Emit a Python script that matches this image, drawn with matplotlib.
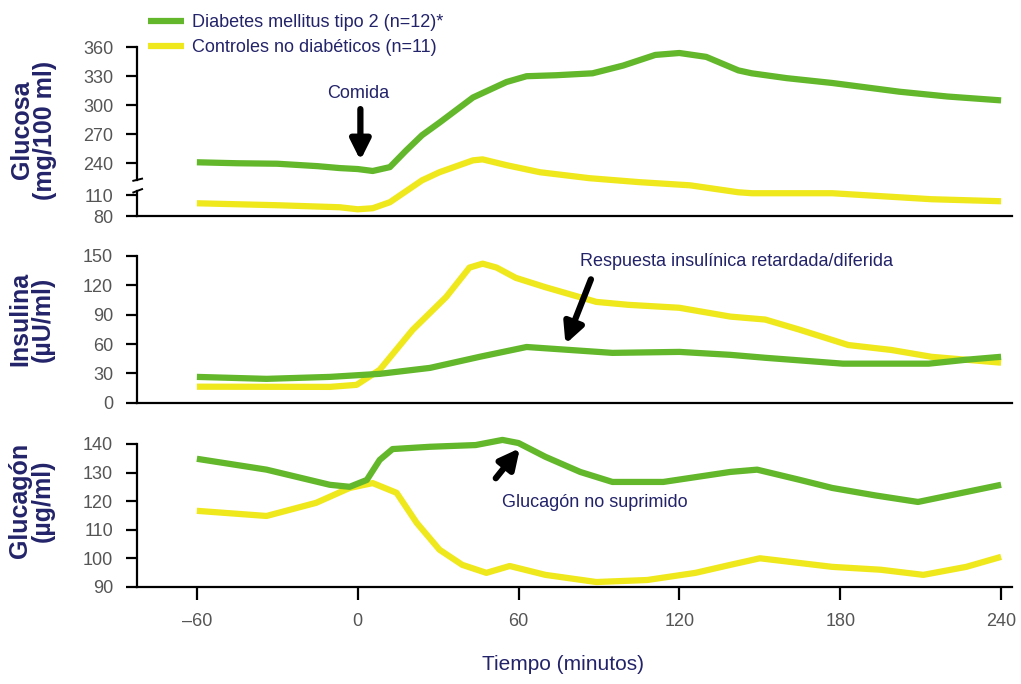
import numpy as np
import matplotlib
matplotlib.use("Agg")
import matplotlib.pyplot as plt

# ---- data ----
# glucosa (mg/100 ml)
t_glu_dm = [-60, -45, -30, -15, -6.7, 0, 5.6, 12, 18, 24, 30.5, 43, 55.5, 63, 74, 87.6, 99, 111, 120, 130, 142, 147, 160, 177, 202, 220, 240]
glu_dm = [241, 240, 239.5, 237, 235, 234, 232, 236, 253, 269, 282, 308, 324, 330, 331, 333, 341, 352, 354, 350, 336, 333, 328, 323, 314, 309, 305]
t_glu_ctl = [-60, -30, -6.7, 0, 5.6, 12, 24, 30.5, 43, 46.6, 55.5, 68, 86.5, 105, 124, 142, 147, 177, 214, 240]
glu_ctl = [98.4, 95.6, 92.7, 89.8, 91.3, 99.9, 208, 230.7, 243, 244, 238, 230.7, 222, 196, 175, 129, 122.8, 122.8, 104.2, 101.3]

# insulina (uU/ml)
t_ins_dm = [-60, -34, -10.4, 8.2, 27, 45.5, 63, 79, 95, 120, 139, 152, 181, 213, 227, 240]
ins_dm = [26.5, 24.5, 26.5, 29.6, 35.7, 47, 57, 54, 51, 52, 49, 46, 40, 40, 44, 47]
t_ins_ctl = [-60, -10.4, -0.4, 8.2, 20.5, 33, 41.7, 46.6, 51.8, 59, 70, 89, 101, 120, 139, 152, 165, 183, 199, 214, 240]
ins_ctl = [16.5, 16.3, 18.4, 33.7, 74.5, 108, 138, 142, 138, 127.5, 118, 103, 100, 97, 88, 85, 74.5, 59, 54, 47, 41]

# glucagon (ug/ml)
t_gcg_dm = [-60, -34, -10.4, -3, 3.4, 8.2, 13, 27, 44, 54, 60, 70, 83, 95, 114, 139, 149, 165, 177, 193, 209, 240]
gcg_dm = [134.8, 131, 125.7, 125, 127.4, 134.4, 138.2, 139, 139.6, 141.4, 140.3, 135.5, 130.2, 126.7, 126.7, 130.2, 131, 127.4, 124.6, 122, 119.7, 125.7]
t_gcg_ctl = [-60, -34, -15.5, -3, 5.6, 14.5, 22, 30.5, 39, 48, 56.7, 70, 89, 108, 126, 139, 150, 177, 195, 211, 227, 240]
gcg_ctl = [116.6, 114.8, 119.4, 124.6, 126.3, 122.9, 112.4, 103, 97.7, 94.9, 97.3, 94.2, 91.7, 92.4, 94.9, 97.7, 100, 97, 96, 94.2, 97, 100.5]

x_ticks = [-60, 0, 60, 120, 180, 240]
x_labels = ["\u201360", "0", "60", "120", "180", "240"]
glu_ticks = [80, 110, 240, 270, 300, 330, 360]
ins_ticks = [0, 30, 60, 90, 120, 150]
gcg_ticks = [90, 100, 110, 120, 130, 140]

GREEN = "#62b82a"
YELLOW = "#efe81c"
NAVY = "#23236a"
GRAY = "#555555"

plt.rcParams['font.family'] = ['Liberation Sans', 'DejaVu Sans']

fig = plt.figure(figsize=(10.21, 6.84), dpi=100)
ax1 = fig.add_axes([0.134, 0.684, 0.857, 0.247])
ax2 = fig.add_axes([0.134, 0.411, 0.857, 0.215])
ax3 = fig.add_axes([0.134, 0.142, 0.857, 0.209])

# broken glucose axis: 80-110 squeezed, 110-225 squeezed into the break
brk_v = [-1000, 80, 110, 225, 2000]
brk_f = [185.3 - 1080 * 0.723, 185.3, 207, 225, 2000]
def fwd(v):
    return np.interp(v, brk_v, brk_f)
def inv(f):
    return np.interp(f, brk_f, brk_v)
ax1.set_yscale('function', functions=(fwd, inv))

lw = 4.5
kw = dict(lw=lw, solid_capstyle='butt', solid_joinstyle='round', clip_on=False)
ax1.plot(t_glu_ctl, glu_ctl, color=YELLOW, label="Controles no diab\u00e9ticos (n=11)", **kw)
ax1.plot(t_glu_dm, glu_dm, color=GREEN, label="Diabetes mellitus tipo 2 (n=12)*", **kw)
ax2.plot(t_ins_ctl, ins_ctl, color=YELLOW, **kw)
ax2.plot(t_ins_dm, ins_dm, color=GREEN, **kw)
ax3.plot(t_gcg_ctl, gcg_ctl, color=YELLOW, **kw)
ax3.plot(t_gcg_dm, gcg_dm, color=GREEN, **kw)

ax1.set_ylim(80, 360)
ax1.set_yticks(glu_ticks)
ax2.set_ylim(0, 150)
ax2.set_yticks(ins_ticks)
ax3.set_ylim(90, 140)
ax3.set_yticks(gcg_ticks)

for ax in (ax1, ax2, ax3):
    ax.set_xlim(-82.4, 244)
    ax.spines['top'].set_visible(False)
    ax.spines['right'].set_visible(False)
    ax.spines['left'].set_linewidth(1.6)
    ax.spines['bottom'].set_linewidth(1.6)
    ax.tick_params(axis='y', length=8, width=1.6, pad=9, labelsize=13, labelcolor=GRAY)
    ax.tick_params(axis='x', length=9.5, width=1.6, pad=9, labelsize=13, labelcolor=GRAY)
    ax.patch.set_visible(False)

ax1.set_xticks([])
ax2.set_xticks([])
ax3.set_xticks(x_ticks)
ax3.set_xticklabels(x_labels)

# break on the glucose axis
ax1.spines['left'].set_bounds(212, 360)
yt = ax1.get_yaxis_transform()
ax1.plot([0, 0], [80, 140], color='black', lw=1.6, transform=yt, clip_on=False)
ax1.plot([-0.004, 0.006], [205, 219], color='black', lw=1.4, transform=yt, clip_on=False)
ax1.plot([-0.004, 0.006], [128, 150], color='black', lw=1.4, transform=yt, clip_on=False)

# y labels
fig.text(0.033, 0.81, "Glucosa\n(mg/100 ml)", rotation=90, ha='center', va='center',
         fontsize=18, fontweight='bold', color=NAVY, linespacing=0.92)
fig.text(0.031, 0.533, "Insulina\n(\u00b5U/ml)", rotation=90, ha='center', va='center',
         fontsize=18, fontweight='bold', color=NAVY, linespacing=0.92)
fig.text(0.031, 0.268, "Glucag\u00f3n\n(\u00b5g/ml)", rotation=90, ha='center', va='center',
         fontsize=18, fontweight='bold', color=NAVY, linespacing=0.92)

fig.text(0.551, 0.028, "Tiempo (minutos)", ha='center', va='center', fontsize=15, color=NAVY)

# annotations
arrow = dict(arrowstyle='-|>', color='black', lw=4.5, mutation_scale=30, shrinkA=0, shrinkB=0)
ax1.annotate("", xy=(1, 243), xytext=(1, 296), arrowprops=arrow)
ax1.text(0, 312, "Comida", ha='center', va='center', fontsize=13, color=NAVY)

ax2.annotate("", xy=(77.5, 60), xytext=(87, 126), arrowprops=arrow)
ax2.text(83, 144, "Respuesta insul\u00ednica retardada/diferida", ha='left', va='center', fontsize=13, color=NAVY)

ax3.annotate("", xy=(60.5, 138.5), xytext=(51.5, 128), arrowprops=arrow)
ax3.text(54, 119.4, "Glucag\u00f3n no suprimido", ha='left', va='center', fontsize=13, color=NAVY)

# legend (diabetes first)
h, l = ax1.get_legend_handles_labels()
leg = fig.legend(h[::-1], l[::-1], loc='upper left', bbox_to_anchor=(0.145, 0.979), frameon=False,
                 fontsize=13, handlelength=2.0, handletextpad=0.45, labelspacing=0.42,
                 borderpad=0, borderaxespad=0)
for txt in leg.get_texts():
    txt.set_color(NAVY)

fig.savefig("out.png", dpi=100)
